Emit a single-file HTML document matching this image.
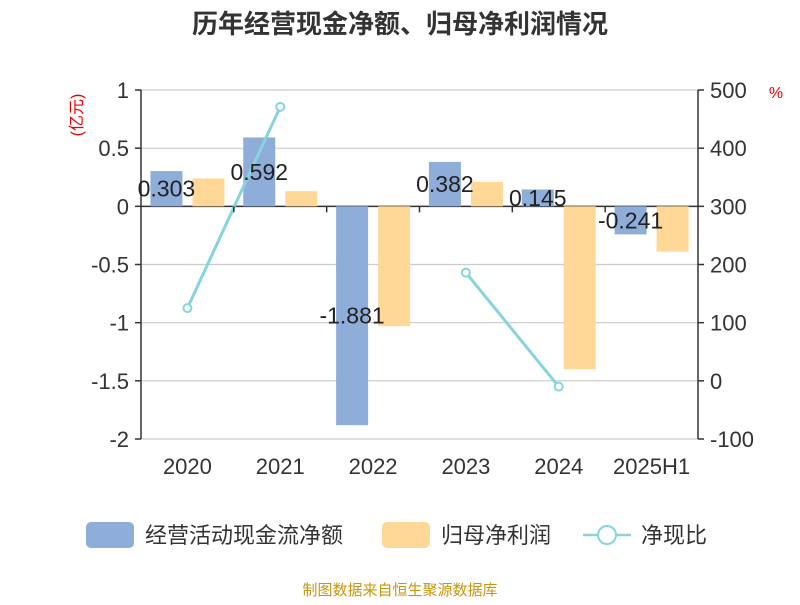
<!DOCTYPE html>
<html><head><meta charset="utf-8">
<style>
body{margin:0;background:#fff;}
svg text{font-family:"Liberation Sans","Noto Sans CJK SC",sans-serif;}
</style></head>
<body>
<svg id="c" width="800" height="600">
<text x="400" y="33" text-anchor="middle" font-size="26" font-weight="bold" fill="#333">历年经营现金净额、归母净利润情况</text>
<text transform="translate(82,115) rotate(-90)" text-anchor="middle" font-size="16" fill="#e00">(亿元)</text>
<text x="776" y="98" text-anchor="middle" font-size="16" fill="#e00">%</text>
<g id="grid"></g><g id="bars"></g><g id="line"></g><g id="axes"></g><g id="labels"></g>
<g>
<rect x="86" y="522" width="48" height="26" rx="5" fill="#8eadd9"/>
<text x="145" y="543" font-size="22" fill="#333">经营活动现金流净额</text>
<rect x="382" y="522" width="48" height="26" rx="5" fill="#ffd897"/>
<text x="441" y="543" font-size="22" fill="#333">归母净利润</text>
<line x1="583" y1="535" x2="631" y2="535" stroke="#88d4dc" stroke-width="2.5"/>
<circle cx="607" cy="535" r="9" fill="#fff" stroke="#88d4dc" stroke-width="2"/>
<text x="641" y="543" font-size="22" fill="#333">净现比</text>
</g>
<text x="400" y="595" text-anchor="middle" font-size="15" fill="#c8960c">制图数据来自恒生聚源数据库</text>
</svg>
<script>
const categories=["2020","2021","2022","2023","2024","2025H1"];
const cashValues=[0.303,0.592,-1.881,0.382,0.145,-0.241];
const cashLabels=["0.303","0.592","-1.881","0.382","0.145","-0.241"];
const profitValues=[0.24,0.13,-1.03,0.21,-1.40,-0.39];
const ratioValues=[125,471,null,186,-10,null];
const leftTicks=[1,0.5,0,-0.5,-1,-1.5,-2];
const rightTicks=[500,400,300,200,100,0,-100];
const NS="http://www.w3.org/2000/svg";
const X0=141,X1=698,YT=90,YB=439;
const yL=v=>YT+(1-v)/3*(YB-YT);
const yR=v=>YT+(500-v)/600*(YB-YT);
const bw=(X1-X0)/categories.length;
const xc=i=>X0+bw*(i+0.5);
function mk(p,t,a){const e=document.createElementNS(NS,t);for(const k in a)e.setAttribute(k,a[k]);document.getElementById(p).appendChild(e);return e;}
leftTicks.forEach((v,i)=>{
 const g=mk('grid','line',{x1:X0,x2:X1,y1:yL(v),y2:yL(v),stroke:v===0?'#333':'#ccc','stroke-width':v===0?1.5:1.2});
 
 
 const t=mk('axes','text',{x:X0-12,y:yL(v)+8,'text-anchor':'end','font-size':22,fill:'#333'});t.textContent=v;
 
 
 mk('axes','line',{x1:X0-6,x2:X0,y1:yL(v),y2:yL(v),stroke:'#333','stroke-width':1.5});
});
rightTicks.forEach(v=>{
 const t=mk('axes','text',{x:X1+12,y:yR(v)+8,'font-size':22,fill:'#333'});t.textContent=v;
 
 
 mk('axes','line',{x1:X1,x2:X1+6,y1:yR(v),y2:yR(v),stroke:'#333','stroke-width':1.5});
});
mk('axes','line',{x1:X0,x2:X0,y1:YT,y2:YB,stroke:'#333','stroke-width':1.5});
mk('axes','line',{x1:X1,x2:X1,y1:YT,y2:YB,stroke:'#333','stroke-width':1.5});
categories.forEach((c,i)=>{
 const t=mk('axes','text',{x:xc(i),y:474,'text-anchor':'middle','font-size':22,fill:'#333'});t.textContent=c;
 
 
 if(i>0)mk('axes','line',{x1:X0+bw*i,x2:X0+bw*i,y1:yL(0),y2:yL(0)+6,stroke:'#333','stroke-width':1.5});
 const b1=mk('bars','rect',{x:xc(i)-37,width:32,y:Math.min(yL(0),yL(cashValues[i])),height:Math.abs(yL(cashValues[i])-yL(0)),fill:'#8eadd9'});
 
 
 const b2=mk('bars','rect',{x:xc(i)+5,width:32,y:Math.min(yL(0),yL(profitValues[i])),height:Math.abs(yL(profitValues[i])-yL(0)),fill:'#ffd897'});
 
 
 const l=mk('labels','text',{x:xc(i)-21,y:(yL(0)+yL(cashValues[i]))/2+8,'text-anchor':'middle','font-size':23,fill:'#222'});l.textContent=cashLabels[i];
 
 
});
let seg=[];
const segs=[];
ratioValues.forEach((v,i)=>{if(v===null){if(seg.length)segs.push(seg);seg=[];}else seg.push([xc(i),yR(v)]);});
if(seg.length)segs.push(seg);
segs.forEach(s=>{
 if(s.length>1){const p=mk('line','polyline',{points:s.map(q=>q.join(',')).join(' '),fill:'none',stroke:'#88d4dc','stroke-width':3});
 
 }
 s.forEach(q=>{const c=mk('line','circle',{cx:q[0],cy:q[1],r:4,fill:'#fff',stroke:'#88d4dc','stroke-width':2});
 
 });
});
</script>
</body></html>
